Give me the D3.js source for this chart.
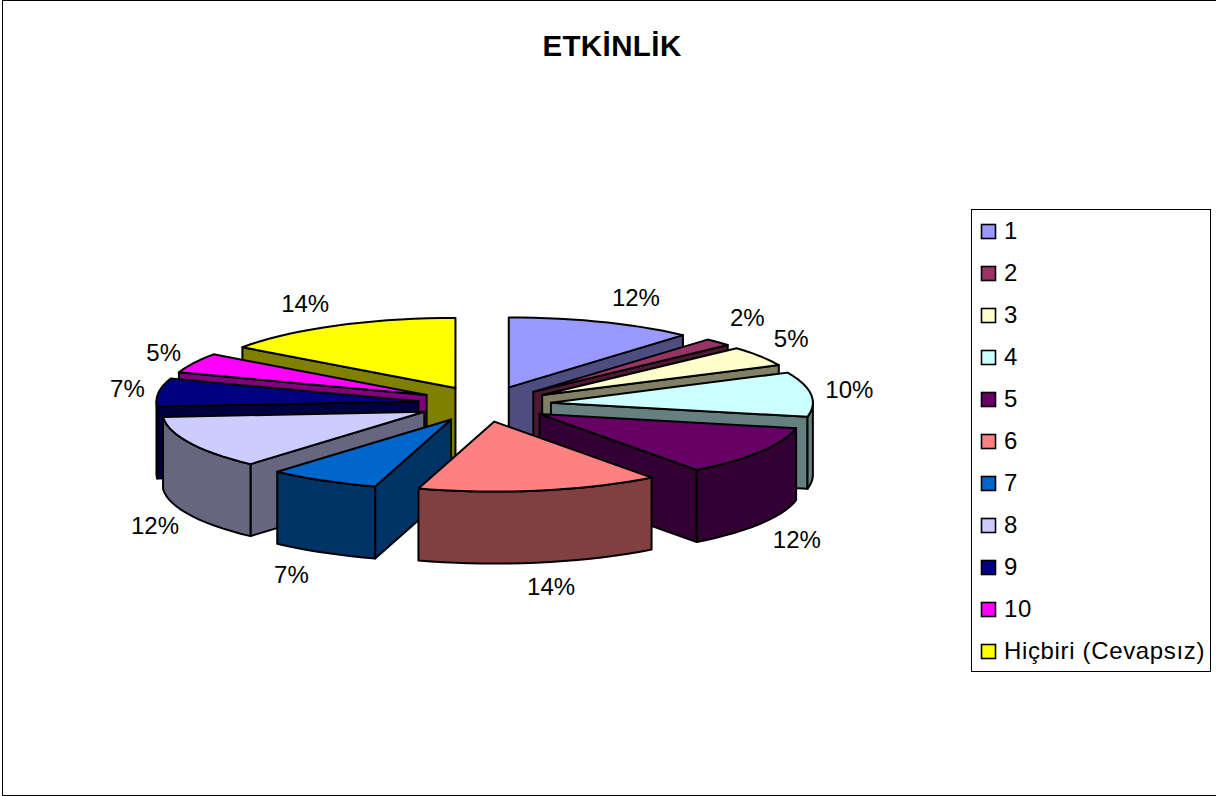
<!DOCTYPE html>
<html><head><meta charset="utf-8">
<script src="https://cdn.jsdelivr.net/npm/d3@7/dist/d3.min.js"></script>
<style>html,body{margin:0;padding:0;background:#fff}svg{display:block}text{font-family:"Liberation Sans",Arial,sans-serif;fill:#000}</style>
</head><body><svg id="c" width="1216" height="796"></svg>
<script>
const categories=["1","2","3","4","5","6","7","8","9","10","Hiçbiri (Cevapsız)"];
const seriesValues=[5,1,2,4,5,6,3,5,3,2,6];
const colors=["#9999FF","#993366","#FFFFCC","#CCFFFF","#660066","#FF8080","#0066CC","#CCCCFF","#000080","#FF00FF","#FFFF00"];
const labelNudges=[[20,1],[-1,-8],[-5,-8],[6,-6],[15,-1],[13,-3],[-13,-1],[-5,0],[-1,2],[-9,6],[-23,3]];

const W=1216,H=796,cx=484.4,cy=404,rx=262,ry=70,depth=72,explode=66.7,tilt=ry/rx;
const svg=d3.select("#c");
svg.append("rect").attr("x",2.5).attr("y",0.5).attr("width",W+5).attr("height",795).attr("fill","#fff").attr("stroke","#000").attr("stroke-width",1);
svg.append("text").attr("x",612).attr("y",56).attr("text-anchor","middle").attr("font-size",29.5).attr("font-weight","bold").attr("letter-spacing",0.4).text("ETKİNLİK");

const pie=d3.pie().sort(null).value(d=>d);
const arcs=pie(seriesValues).map((a,i)=>({...a,i,mid:(a.startAngle+a.endAngle)/2}));
const total=d3.sum(seriesValues);
const pct=v=>d3.format(".0f")(v/total*100)+"%";
// view distortion of the rim (degrees by angle), as the 3-D projection of the original gives
const warpDeg=d3.scaleLinear()
  .domain([0,43,51,69,90,103,146,180,197,223,266,291,309,360])
  .range([0,1.2,3.5,4,1,1.2,2.6,0,0.3,1.3,0,2.4,3,0]);
const warp=ang=>ang-warpDeg(ang*180/Math.PI)*Math.PI/180;
const P=(ax,ay,ang,dy=0)=>{const w=warp(ang);return [ax+rx*Math.sin(w),ay-ry*Math.cos(w)+dy];};
const line=d3.line();
const g=svg.append("g");
const stroke={stroke:"#000","stroke-width":2,"stroke-linejoin":"round"};
function poly(pts,fill){const p=g.append("path").attr("d",line(pts)+"Z").attr("fill",fill);for(const k in stroke)p.attr(k,stroke[k]);}

[...arcs].sort((a,b)=>(-Math.cos(a.mid))-(-Math.cos(b.mid))).forEach(a=>{
  const ax=cx+explode*Math.sin(a.mid), ay=cy-explode*tilt*Math.cos(a.mid);
  const top=colors[a.i], side=d3.rgb(top);
  const dark=d3.rgb(side.r*0.5,side.g*0.5,side.b*0.5).formatHex();
  const s=a.startAngle,e=a.endAngle;
  const wall=ang=>{const r=P(ax,ay,ang);poly([[ax,ay],r,[r[0],r[1]+depth],[ax,ay+depth]],dark);};
  if(Math.sin(s)<0) wall(s);
  if(Math.sin(e)>0.0001) wall(e);
  const a0=Math.max(s,Math.PI/2),a1=Math.min(e,Math.PI*1.5);
  if(a1>a0){
    const n=Math.max(2,Math.ceil((a1-a0)/0.05));
    const ts=d3.range(n+1).map(k=>a0+(a1-a0)*k/n);
    poly([...ts.map(t=>P(ax,ay,t)),...ts.slice().reverse().map(t=>P(ax,ay,t,depth))],dark);
  }
  const n=Math.max(2,Math.ceil((e-s)/0.05));
  poly([[ax,ay],...d3.range(n+1).map(k=>P(ax,ay,s+(e-s)*k/n))],top);
});

arcs.forEach(a=>{
  const c=Math.cos(a.mid);
  const x=cx+360*Math.sin(a.mid)+labelNudges[a.i][0];
  const y=cy-115*c+(c<0?depth:0)+labelNudges[a.i][1];
  svg.append("text").attr("x",x).attr("y",y).attr("text-anchor","middle").attr("dominant-baseline","central").attr("font-size",24).text(pct(a.data));
});

svg.append("rect").attr("x",971.5).attr("y",209.5).attr("width",239).attr("height",462).attr("fill","#fff").attr("stroke","#000").attr("stroke-width",1);
const ly=d3.scalePoint().domain(categories).range([231,651]);
categories.forEach((c,i)=>{
  svg.append("rect").attr("x",981.5).attr("y",ly(c)-6.5).attr("width",14).attr("height",14).attr("fill",colors[i]).attr("stroke","#000").attr("stroke-width",1.6);
  svg.append("text").attr("x",1004).attr("y",ly(c)+8).attr("font-size",24).attr("letter-spacing",0.65).text(c);
});
</script></body></html>
